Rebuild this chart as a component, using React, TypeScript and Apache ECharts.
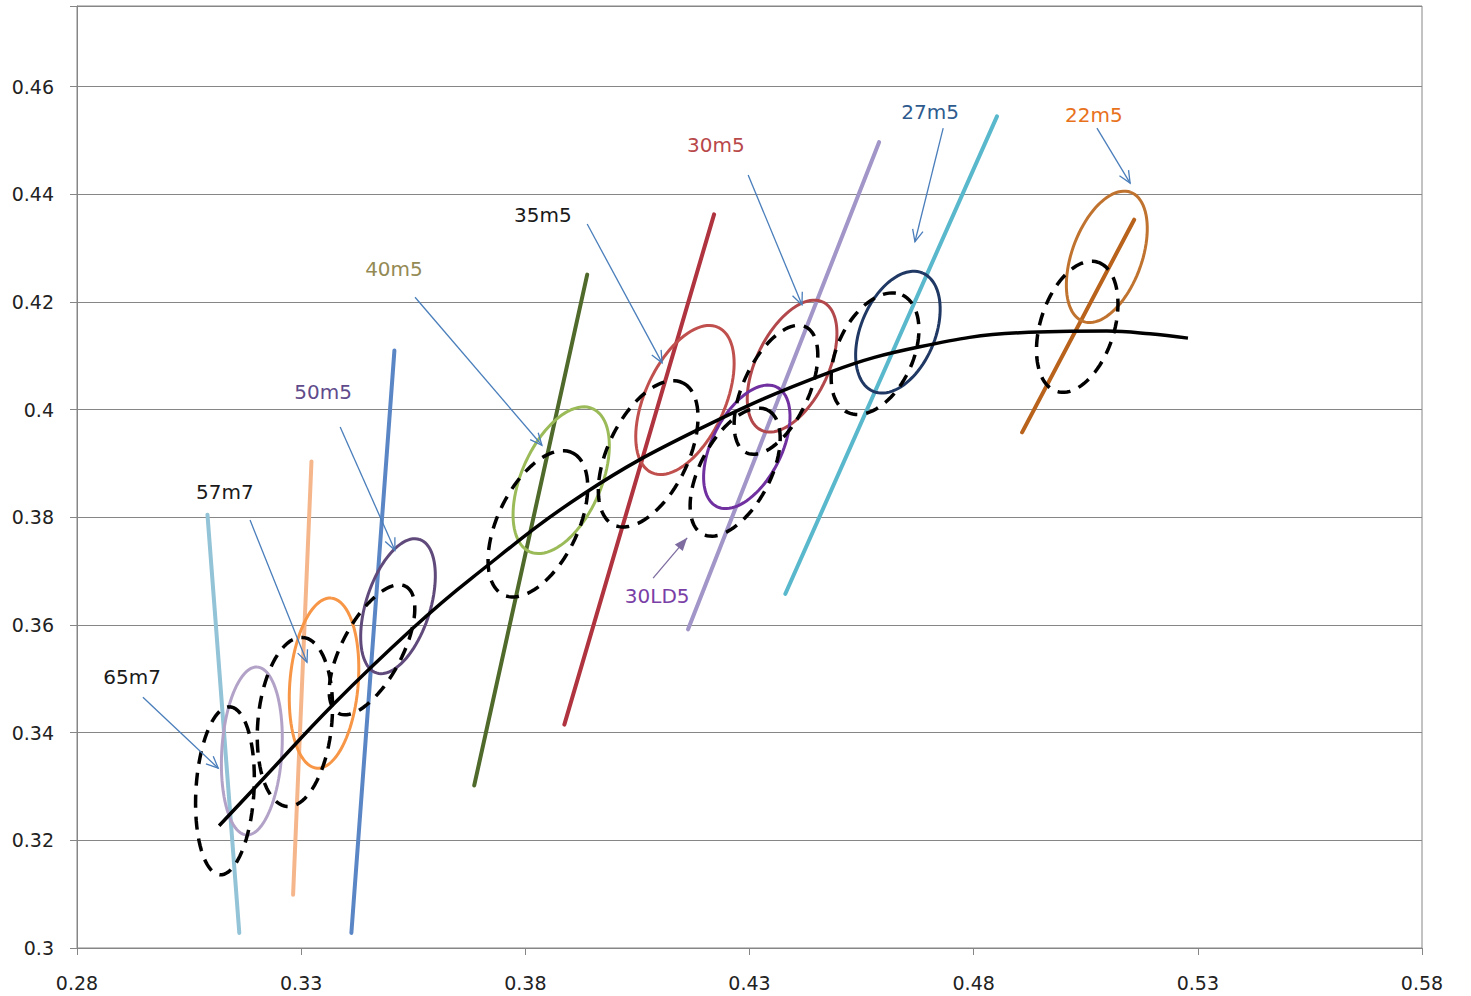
import React, { useEffect, useRef } from 'react';
import * as echarts from 'echarts';

// ---- axes ----
const X_MIN = 0.28, X_MAX = 0.58, X_STEP = 0.05;
const Y_MIN = 0.3, Y_MAX = 0.475, Y_STEP = 0.02;

// ---- fitted trend curve ----
const trendX = [0.3117, 0.3215, 0.3371, 0.3549, 0.3677, 0.3929, 0.4183, 0.4480, 0.4680, 0.4903, 0.5097, 0.5193, 0.5278];
const trendY = [0.3227, 0.3314, 0.3452, 0.3594, 0.3685, 0.3843, 0.3962, 0.4070, 0.4117, 0.4143, 0.4146, 0.4141, 0.4133];

// ---- steep regression lines ----
const lineNames = ['65m7', '57m7', '50m5', '40m5', '35m5', '30m5', '27m5', '22m5'];
const lineX1 = [0.3091, 0.3323, 0.3508, 0.3938, 0.4221, 0.4589, 0.4852, 0.5158];
const lineY1 = [0.3805, 0.3904, 0.4110, 0.4251, 0.4363, 0.4497, 0.4545, 0.4353];
const lineX2 = [0.3162, 0.3282, 0.3412, 0.3686, 0.3887, 0.4163, 0.4380, 0.4908];
const lineY2 = [0.3028, 0.3099, 0.3028, 0.3302, 0.3415, 0.3592, 0.3658, 0.3958];
const lineColors = ['#92c3d6', '#f6b68c', '#5b86c6', '#4f6a2a', '#b0343f', '#a295c8', '#59b8cc', '#b8621b'];

// ---- solid ellipses: centre, tip of major axis, minor/major ratio ----
const ellNames = ['65m7', '57m7', '50m5', '40m5', '35m5', '30m5', '30LD5', '27m5', '22m5'];
const ellCX = [0.3190, 0.3351, 0.3516, 0.3880, 0.4156, 0.4395, 0.4294, 0.4631, 0.5097];
const ellCY = [0.3366, 0.3492, 0.3635, 0.3869, 0.4018, 0.4081, 0.3931, 0.4144, 0.4284];
const ellTipX = [0.3202, 0.3367, 0.3564, 0.3950, 0.4230, 0.4464, 0.4361, 0.4686, 0.5150];
const ellTipY = [0.3522, 0.3650, 0.3759, 0.4002, 0.4153, 0.4200, 0.4042, 0.4254, 0.4404];
const ellRatio = [0.357, 0.40, 0.457, 0.51, 0.50, 0.507, 0.52, 0.58, 0.507];
const ellColors = ['#b3a2c7', '#f79646', '#604a7b', '#9bbb59', '#c0504d', '#b2484b', '#7030a0', '#1f3864', '#c0732f'];

// ---- dashed ellipses ----
const dashNames = ['65m7', '57m7', '50m5', '40m5', '35m5', '30LD5', '30m5', '27m5', '22m5'];
const dashCX = [0.3130, 0.3286, 0.3458, 0.3828, 0.4074, 0.4268, 0.4359, 0.4580, 0.5031];
const dashCY = [0.3292, 0.3420, 0.3554, 0.3788, 0.3918, 0.3884, 0.4037, 0.4104, 0.4154];
const dashTipX = [0.3141, 0.3304, 0.3533, 0.3905, 0.4151, 0.4341, 0.4425, 0.4641, 0.5077];
const dashTipY = [0.3448, 0.3577, 0.3672, 0.3920, 0.4050, 0.3999, 0.4154, 0.4213, 0.4274];
const dashRatio = [0.345, 0.435, 0.417, 0.506, 0.506, 0.50, 0.47, 0.585, 0.544];

// ---- annotations ----
const labelText = ['65m7', '57m7', '50m5', '40m5', '35m5', '30m5', '27m5', '22m5', '30LD5'];
const labelX = [0.2923, 0.3130, 0.3349, 0.3507, 0.3839, 0.4225, 0.4703, 0.5068, 0.4094];
const labelY = [0.3503, 0.3847, 0.4033, 0.4261, 0.4362, 0.4492, 0.4553, 0.4548, 0.3654];
const labelColors = ['#1a1a1a', '#1a1a1a', '#5f4b8b', '#948a54', '#1a1a1a', '#b8484a', '#2e5b8e', '#e8711c', '#7a3fa6'];
const arrowX1 = [0.2947, 0.3186, 0.3387, 0.3554, 0.3938, 0.4297, 0.4732, 0.5075, 0.4085];
const arrowY1 = [0.3466, 0.3795, 0.3968, 0.4209, 0.4345, 0.4436, 0.4523, 0.4523, 0.3687];
const arrowX2 = [0.3115, 0.3313, 0.3509, 0.3837, 0.4105, 0.4417, 0.4669, 0.5149, 0.4161];
const arrowY2 = [0.3334, 0.3531, 0.3739, 0.3934, 0.4087, 0.4195, 0.4312, 0.4421, 0.3762];
const arrowHeads = ['open', 'open', 'open', 'open', 'open', 'open', 'open', 'open', 'filled'];
const arrowColors = ['#4a7ebb', '#4a7ebb', '#4a7ebb', '#4a7ebb', '#4a7ebb', '#4a7ebb', '#4a7ebb', '#4a7ebb', '#7e6ca0'];

const FONT = 'DejaVu Sans';

function ellipseRenderer(colors: string[], dashed: boolean) {
  return (params: any, api: any) => {
    const c = api.coord([api.value(0), api.value(1)]);
    const t = api.coord([api.value(2), api.value(3)]);
    const r = api.value(4);
    const ux = t[0] - c[0], uy = t[1] - c[1];
    const vx = -uy * r, vy = ux * r;
    const pts: number[][] = [];
    const n = 90;
    for (let i = 0; i <= n; i++) {
      const a = (i / n) * Math.PI * 2;
      pts.push([c[0] + ux * Math.cos(a) + vx * Math.sin(a), c[1] + uy * Math.cos(a) + vy * Math.sin(a)]);
    }
    return {
      type: 'polyline',
      shape: { points: pts },
      style: dashed
        ? { stroke: '#000', lineWidth: 3.5, fill: 'none', lineDash: [13, 9] }
        : { stroke: colors[params.dataIndex], lineWidth: 3, fill: 'none' },
    };
  };
}

export default function App() {
  const ref = useRef<HTMLDivElement>(null);
  useEffect(() => {
    if (!ref.current) return;
    const chart = echarts.init(ref.current, null, { renderer: 'svg' });
    const series: any[] = [];
    lineNames.forEach((name, i) => {
      series.push({
        type: 'line', name, symbol: 'none', z: 2,
        data: [[lineX1[i], lineY1[i]], [lineX2[i], lineY2[i]]],
        lineStyle: { color: lineColors[i], width: 4, cap: 'round' },
      });
    });
    series.push({
      type: 'custom', name: 'ellipses', z: 3,
      renderItem: ellipseRenderer(ellColors, false),
      encode: { x: [0, 2], y: [1, 3] },
      data: ellNames.map((_, i) => [ellCX[i], ellCY[i], ellTipX[i], ellTipY[i], ellRatio[i]]),
    });
    series.push({
      type: 'custom', name: 'dashed', z: 4,
      renderItem: ellipseRenderer([], true),
      encode: { x: [0, 2], y: [1, 3] },
      data: dashNames.map((_, i) => [dashCX[i], dashCY[i], dashTipX[i], dashTipY[i], dashRatio[i]]),
    });
    series.push({
      type: 'line', name: 'trend', symbol: 'none', smooth: 0.4, z: 5,
      data: trendX.map((x, i) => [x, trendY[i]]),
      lineStyle: { color: '#000', width: 3.5 },
    });
    series.push({
      type: 'custom', name: 'arrows', z: 6,
      encode: { x: [0, 2], y: [1, 3] },
      data: arrowX1.map((x, i) => [x, arrowY1[i], arrowX2[i], arrowY2[i]]),
      renderItem: (params: any, api: any) => {
        const i = params.dataIndex;
        const p1 = api.coord([api.value(0), api.value(1)]);
        const p2 = api.coord([api.value(2), api.value(3)]);
        const ang = Math.atan2(p2[1] - p1[1], p2[0] - p1[0]);
        const L = arrowHeads[i] === 'filled' ? 14 : 13;
        const s = arrowHeads[i] === 'filled' ? 0.38 : 0.42;
        const h1 = [p2[0] - L * Math.cos(ang - s), p2[1] - L * Math.sin(ang - s)];
        const h2 = [p2[0] - L * Math.cos(ang + s), p2[1] - L * Math.sin(ang + s)];
        const col = arrowColors[i];
        return {
          type: 'group',
          children: [
            { type: 'line', shape: { x1: p1[0], y1: p1[1], x2: p2[0], y2: p2[1] }, style: { stroke: col, lineWidth: 1.3 } },
            arrowHeads[i] === 'filled'
              ? { type: 'polygon', shape: { points: [h1, p2, h2] }, style: { fill: col } }
              : { type: 'polyline', shape: { points: [h1, p2, h2] }, style: { stroke: col, lineWidth: 1.3, fill: 'none' } },
          ],
        };
      },
    });
    series.push({
      type: 'custom', name: 'labels', z: 7,
      encode: { x: 0, y: 1 },
      data: labelX.map((x, i) => [x, labelY[i]]),
      renderItem: (params: any, api: any) => {
        const i = params.dataIndex;
        const p = api.coord([api.value(0), api.value(1)]);
        return {
          type: 'text', x: p[0], y: p[1],
          style: { text: labelText[i], fill: labelColors[i], fontSize: 20, fontFamily: FONT, align: 'center', verticalAlign: 'middle' },
        };
      },
    });

    chart.setOption({
      animation: false,
      backgroundColor: '#fff',
      grid: { left: 77, right: 49, top: 6, bottom: 48, show: true, borderColor: '#868686', borderWidth: 1, backgroundColor: 'transparent' },
      xAxis: {
        type: 'value', min: X_MIN, max: X_MAX, interval: X_STEP,
        axisLine: { show: true, lineStyle: { color: '#868686', width: 1 } },
        axisTick: { show: true, inside: false, length: 7, lineStyle: { color: '#868686' } },
        axisLabel: { color: '#222', fontSize: 19, fontFamily: FONT, margin: 25, formatter: (v: number) => String(Number(v.toFixed(2))) },
        splitLine: { show: false },
      },
      yAxis: {
        type: 'value', min: Y_MIN, max: Y_MAX, interval: Y_STEP,
        axisLine: { show: true, lineStyle: { color: '#868686', width: 1 } },
        axisTick: { show: true, inside: false, length: 7, lineStyle: { color: '#868686' } },
        axisLabel: {
          color: '#222', fontSize: 19, fontFamily: FONT, margin: 23,
          formatter: (v: number) => {
            const k = (v - Y_MIN) / Y_STEP;
            return Math.abs(k - Math.round(k)) < 1e-6 ? String(Number(v.toFixed(2))) : '';
          },
        },
        splitLine: { show: true, lineStyle: { color: '#868686', width: 1 } },
      },
      series,
    });
    return () => chart.dispose();
  }, []);
  return <div ref={ref} style={{ position: 'fixed', left: 0, top: 0, width: 1471, height: 996, background: '#fff' }} />;
}
